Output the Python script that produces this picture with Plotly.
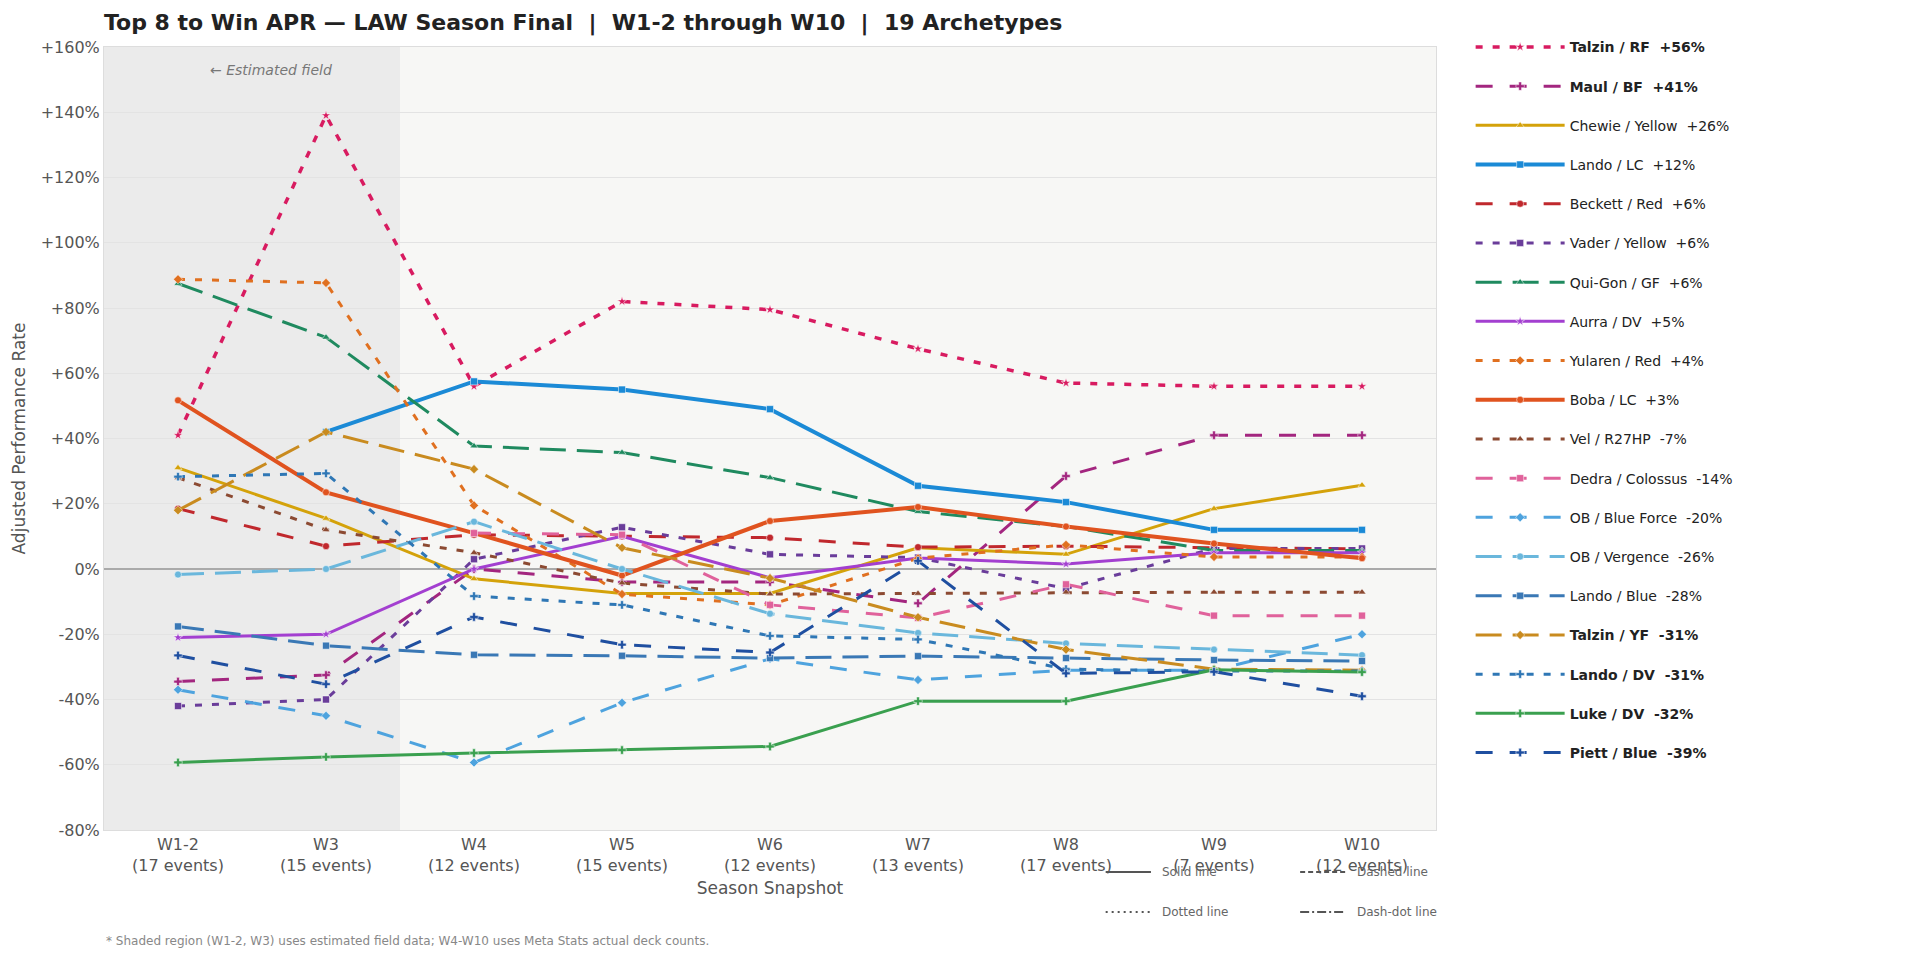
import plotly.graph_objects as go

weeks = ["W1-2", "W3", "W4", "W5", "W6", "W7", "W8", "W9", "W10"]
events = [17, 15, 12, 15, 12, 13, 17, 7, 12]

names = ["Talzin / RF", "Maul / BF", "Chewie / Yellow", "Lando / LC", "Beckett / Red",
         "Vader / Yellow", "Qui-Gon / GF", "Aurra / DV", "Yularen / Red", "Boba / LC",
         "Vel / R27HP", "Dedra / Colossus", "OB / Blue Force", "OB / Vergence",
         "Lando / Blue", "Talzin / YF", "Lando / DV", "Luke / DV", "Piett / Blue"]

talzin_rf = [41, 139, 56, 82, 79.5, 67.5, 57, 56, 56]
maul_bf = [-34.5, -32.5, 0, -4, -4, -10.5, 28.5, 41, 41]
chewie_yellow = [31, 15.5, -3, -7.5, -7.5, 6.5, 4.5, 18.5, 25.7]
lando_lc = [None, 42, 57.5, 55, 49, 25.5, 20.5, 12, 12]
beckett_red = [18.5, 7, 10.5, 10, 9.6, 6.7, 7, 6.5, 6.2]
vader_yellow = [-42, -40, 3, 12.8, 4.5, 3.5, -6, 6.3, 6.3]
quigon_gf = [87.5, 71, 37.7, 35.7, 28, 17.6, 13, 5.7, 5.7]
aurra_dv = [-21, -20, 0, 10, -2.7, 3.4, 1.5, 5, 5]
yularen_red = [88.8, 87.7, 19.5, -7.7, -11, 3.3, 7.4, 3.7, 3.7]
boba_lc = [51.7, 23.5, 11, -2, 14.7, 19, 13, 7.8, 3.3]
vel_r27hp = [28, 12, 5, -4.3, -7.7, -7.5, -7.1, -7.1, -7.1]
dedra_colossus = [None, None, 11, 10.5, -11, -15, -4.7, -14.3, -14.3]
ob_blue_force = [-37, -45, -59.3, -41, -27.5, -34, -31, -31, -20]
ob_vergence = [-1.7, 0, 14.5, 0, -13.7, -19.6, -22.8, -24.7, -26.4]
lando_blue = [-17.6, -23.5, -26.3, -26.6, -27.3, -26.7, -27.3, -27.9, -28.2]
talzin_yf = [18, 42, 30.6, 6.5, -2.8, -14.8, -24.7, -30.7, -31]
lando_dv = [28.3, 29.3, -8.3, -11, -20.5, -21.6, -30.7, -31.3, -31.3]
luke_dv = [-59.3, -57.6, -56.4, -55.5, -54.4, -40.5, -40.5, -30.9, -31.6]
piett_blue = [-26.5, -35.3, -14.7, -23.2, -25.6, 2.5, -32, -31.5, -39]

series = [talzin_rf, maul_bf, chewie_yellow, lando_lc, beckett_red, vader_yellow,
          quigon_gf, aurra_dv, yularen_red, boba_lc, vel_r27hp, dedra_colossus,
          ob_blue_force, ob_vergence, lando_blue, talzin_yf, lando_dv, luke_dv, piett_blue]
bold = {"Talzin / RF", "Maul / BF", "Talzin / YF", "Lando / DV", "Luke / DV", "Piett / Blue"}

DOT = "7px,10px"
DASH = "17px,17px"
LDASH = "26px,11px"
styles = [
    ("#d81b60", DOT, "star", 3.5),
    ("#a3267f", DASH, "cross", 3),
    ("#d4a20a", "solid", "triangle-up", 3),
    ("#1b8ad6", "solid", "square", 4),
    ("#c0282d", DASH, "circle", 3),
    ("#6a3d9a", DOT, "square", 3),
    ("#1f8a5f", LDASH, "triangle-up", 3),
    ("#a33fd0", "solid", "star", 3),
    ("#e07020", DOT, "diamond", 3),
    ("#e0531f", "solid", "circle", 4),
    ("#8c4a32", DOT, "triangle-up", 3),
    ("#e0629b", DASH, "square", 3),
    ("#4ea3de", DASH, "diamond", 3),
    ("#6ab7dc", LDASH, "circle", 3),
    ("#3a78b5", LDASH, "square", 3),
    ("#c98b1f", LDASH, "diamond", 3),
    ("#2f77b5", DOT, "cross", 3),
    ("#3aa04f", "solid", "cross", 3),
    ("#1f4fa0", DASH, "cross", 3),
]

xlabels = [f"{w}<br>({e} events)" for w, e in zip(weeks, events)]
xs = list(range(len(weeks)))

fig = go.Figure()
for name, vals, (col, dash, sym, lw) in zip(names, series, styles):
    final = [v for v in vals if v is not None][-1]
    lab = f"{name}\u00a0\u00a0{final:+.0f}%"
    if name in bold:
        lab = f"<b>{lab}</b>"
    fig.add_trace(go.Scatter(
        x=xs, y=vals, name=lab, mode="lines+markers", legendgroup=name,
        line=dict(color=col, width=lw, dash=dash),
        marker=dict(symbol=sym, size=7, color=col, line=dict(color="white", width=0.5)),
        connectgaps=False,
    ))

yt = list(range(-80, 161, 20))
ytext = [("+" if v > 0 else "") + f"{v}%" for v in yt]

fig.update_layout(
    width=1920, height=960,
    margin=dict(l=104, r=484, t=47, b=130),
    paper_bgcolor="white", plot_bgcolor="#f7f7f5",
    font=dict(family="DejaVu Sans", size=15, color="#555"),
    title=dict(text="<b>Top 8 to Win APR — LAW Season Final  |  W1-2 through W10  |  19 Archetypes</b>".replace("  ", "\u00a0\u00a0"),
               x=104/1920, xanchor="left", xref="container", y=1-22/960, yanchor="middle", yref="container",
               font=dict(size=22, color="#222")),
    xaxis=dict(tickvals=xs, ticktext=xlabels, range=[-0.5, 8.5], showgrid=False, zeroline=False,
               showline=True, mirror=True, linecolor="#dddddd", linewidth=1, ticks="",
               tickfont=dict(size=16, color="#555"),
               title=dict(text="Season Snapshot", font=dict(size=17, color="#555"), standoff=8)),
    yaxis=dict(tickvals=yt, ticktext=ytext, range=[-80, 160], showgrid=True, gridcolor="#e3e3e3",
               gridwidth=1, zeroline=True, zerolinecolor="#aaaaaa", zerolinewidth=2,
               showline=True, mirror=True, linecolor="#dddddd", linewidth=1, ticks="",
               tickfont=dict(size=16, color="#555"),
               title=dict(text="Adjusted Performance Rate", font=dict(size=17, color="#555"), standoff=10)),
    legend=dict(x=1.026, xanchor="left", y=1.02, yanchor="top", font=dict(size=14, color="#222"),
                tracegroupgap=18, itemwidth=89, bgcolor="rgba(0,0,0,0)", traceorder="grouped",
                maxheight=1),
    showlegend=True,
)

fig.add_shape(type="rect", xref="x", yref="paper", x0=-0.5, x1=1.5, y0=0, y1=1,
              fillcolor="#ebebeb", line=dict(width=0), layer="below")

fig.add_annotation(text="<i>← Estimated field</i>", x=0.63, y=153, xref="x", yref="y",
                   showarrow=False, font=dict(size=14, color="#777"))
fig.add_annotation(text="* Shaded region (W1-2, W3) uses estimated field data; W4-W10 uses Meta Stats actual deck counts.",
                   x=0, xref="paper", xanchor="left", y=-0.1417, yref="paper", yanchor="middle",
                   showarrow=False, font=dict(size=12, color="#888"))

# line-style key
key = [("Solid line", "solid", 0.752, -0.0536), ("Dashed line", "5px,3px", 0.898, -0.0536),
       ("Dotted line", "2px,4px", 0.752, -0.1047), ("Dash-dot line", "9px,3px,2px,3px", 0.898, -0.1047)]
for txt, dsh, kx, ky in key:
    fig.add_shape(type="line", xref="paper", yref="paper", x0=kx, x1=kx + 0.034, y0=ky, y1=ky,
                  line=dict(color="#555", width=2, dash=dsh))
    fig.add_annotation(text=txt, x=kx + 0.041, y=ky, xref="paper", yref="paper", xanchor="left",
                       yanchor="middle", showarrow=False, font=dict(size=12, color="#666"))

fig.write_html("out.html")
